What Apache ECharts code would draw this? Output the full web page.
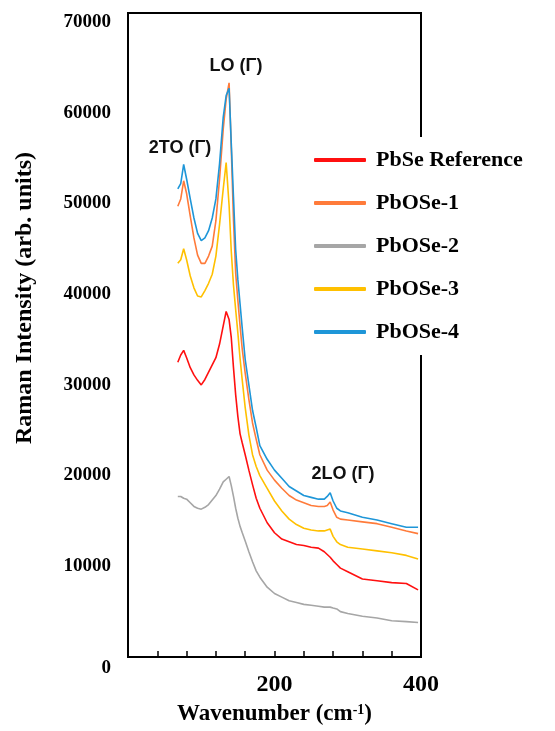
<!DOCTYPE html>
<html>
<head>
<meta charset="utf-8">
<script src="https://cdn.jsdelivr.net/npm/echarts@6/dist/echarts.min.js"></script>
<style>
  html, body { margin: 0; padding: 0; background: #fff; }
  #chart { width: 555px; height: 731px; }
</style>
</head>
<body>
<div id="chart"></div>
<script>
// wavenumber (cm-1) sample points
const wavenumber = [68, 72, 76, 80, 85, 90, 95, 100, 105, 110, 115, 120, 125, 130, 134, 138, 141, 144, 147, 150,
  153, 156, 160, 165, 170, 175, 180, 190, 200, 210, 220, 230, 240, 250, 260, 268, 272, 276, 280, 285,
  290, 300, 320, 340, 360, 380, 396];

const pbseRef = [32500, 33300, 33800, 33000, 31900, 31100, 30500, 30000, 30600, 31400, 32200, 33000, 34500, 36500, 38100, 37200, 35200, 31900, 28900, 26500,
  24600, 23600, 22300, 20600, 19000, 17500, 16400, 14800, 13700, 13000, 12700, 12400, 12300, 12100, 12000, 11600, 11300, 11000, 10600, 10200,
  9800, 9400, 8600, 8400, 8200, 8100, 7400];
const pbose1 = [49700, 50500, 52500, 51100, 48600, 46200, 44300, 43400, 43400, 44200, 45300, 48100, 52700, 58200, 61500, 63300, 56100, 48200, 42300, 39300,
  36500, 33900, 31300, 28400, 25800, 24000, 22300, 20600, 19500, 18600, 17800, 17300, 17000, 16700, 16600, 16600, 16700, 17100, 16200, 15400,
  15200, 15100, 14900, 14700, 14300, 13900, 13600];
const pbose2 = [17700, 17700, 17500, 17400, 17000, 16600, 16400, 16300, 16500, 16800, 17300, 17800, 18500, 19300, 19600, 19900, 18900, 17700, 16400, 15300,
  14400, 13700, 12800, 11600, 10500, 9500, 8800, 7700, 7000, 6600, 6200, 6000, 5800, 5700, 5600, 5500, 5500, 5500, 5400, 5300,
  5000, 4800, 4500, 4300, 4000, 3900, 3800];
const pbose3 = [43400, 43800, 45000, 43800, 42000, 40700, 39800, 39700, 40400, 41200, 42200, 44200, 47700, 51600, 54500, 49800, 44700, 41000, 38300, 35700,
  32900, 30500, 27500, 24500, 22300, 21000, 20000, 18600, 17200, 16100, 15200, 14600, 14200, 14000, 13900, 13900, 14000, 14100, 13300, 12700,
  12400, 12100, 11900, 11700, 11500, 11200, 10800];
const pbose4 = [51600, 52200, 54300, 52700, 50500, 48400, 46700, 45900, 46200, 47000, 48400, 50500, 54400, 59500, 61900, 62700, 56600, 50700, 44900, 41600,
  38900, 36200, 32800, 30000, 27200, 25300, 23300, 21800, 20600, 19700, 18800, 18300, 17800, 17600, 17400, 17400, 17700, 18100, 17200, 16400,
  16100, 15900, 15400, 15100, 14700, 14300, 14300];

const seriesNames = ['PbSe Reference', 'PbOSe-1', 'PbOSe-2', 'PbOSe-3', 'PbOSe-4'];
const seriesValues = [pbseRef, pbose1, pbose2, pbose3, pbose4];
const seriesColors = ['#FF1010', '#FF7B3A', '#A6A6A6', '#FFC000', '#1E96D8'];
const xLabelValues = [200, 400];

const serif = '"Liberation Serif", "Times New Roman", serif';
const sans = '"Liberation Sans", Arial, sans-serif';

const myChart = echarts.init(document.getElementById('chart'));

const option = {
  animation: false,
  backgroundColor: '#fff',
  grid: {
    left: 128, right: 134, top: 13, bottom: 69,
    show: true, borderColor: '#000', borderWidth: 2
  },
  legend: {
    orient: 'vertical',
    left: 309, top: 137,
    padding: [12, 5, 12, 5],
    backgroundColor: '#fff',
    itemGap: 21,
    itemWidth: 52, itemHeight: 4,
    icon: 'roundRect',
    data: seriesNames,
    textStyle: { fontFamily: serif, fontWeight: 'bold', fontSize: 22, color: '#000', padding: [0, 0, 0, 5] }
  },
  xAxis: {
    type: 'value',
    min: 0, max: 400, interval: 40,
    axisLine: { show: true, lineStyle: { color: '#000', width: 2 } },
    axisTick: { show: true, inside: true, length: 6, lineStyle: { color: '#000', width: 1.5 } },
    splitLine: { show: false },
    axisLabel: {
      margin: 16,
      fontFamily: serif, fontWeight: 'bold', fontSize: 24, color: '#000',
      formatter: v => xLabelValues.includes(v) ? String(v) : ''
    },
    name: 'Wavenumber (cm{sup|-1})',
    nameLocation: 'middle',
    nameGap: 46,
    nameTextStyle: {
      fontFamily: serif, fontWeight: 'bold', fontSize: 23, color: '#000',
      rich: {
        sup: { fontFamily: serif, fontWeight: 'bold', fontSize: 14, color: '#000', verticalAlign: 'top' }
      }
    }
  },
  yAxis: {
    type: 'value',
    min: 0, max: 71000, interval: 10000,
    axisLine: { show: false },
    axisTick: { show: false },
    splitLine: { show: false },
    axisLabel: {
      margin: 17,
      showMaxLabel: false,
      fontFamily: serif, fontWeight: 'bold', fontSize: 19, color: '#000',
      formatter: v => v === 0 ? '{z|0}' : String(v),
      rich: {
        z: { fontFamily: serif, fontWeight: 'bold', fontSize: 19, color: '#000', padding: [22, 0, 0, 0] }
      }
    },
    name: 'Raman Intensity (arb. units)',
    nameLocation: 'middle',
    nameGap: 91,
    nameTextStyle: {
      fontFamily: serif, fontWeight: 'bold', fontSize: 24, color: '#000',
      padding: [0, 0, 0, 74]
    }
  },
  graphic: [
    { type: 'text', x: 180, y: 148, style: { text: '2TO (Γ)', font: 'bold 18px ' + sans, fill: '#111', align: 'center', verticalAlign: 'middle' } },
    { type: 'text', x: 236, y: 66, style: { text: 'LO (Γ)', font: 'bold 18px ' + sans, fill: '#111', align: 'center', verticalAlign: 'middle' } },
    { type: 'text', x: 343, y: 474, style: { text: '2LO (Γ)', font: 'bold 18px ' + sans, fill: '#111', align: 'center', verticalAlign: 'middle' } }
  ],
  series: seriesNames.map((name, i) => ({
    name: name,
    type: 'line',
    symbol: 'none',
    color: seriesColors[i],
    lineStyle: { width: 1.6, color: seriesColors[i] },
    data: wavenumber.map((x, j) => [x, seriesValues[i][j]])
  }))
};

myChart.setOption(option);
</script>
</body>
</html>
